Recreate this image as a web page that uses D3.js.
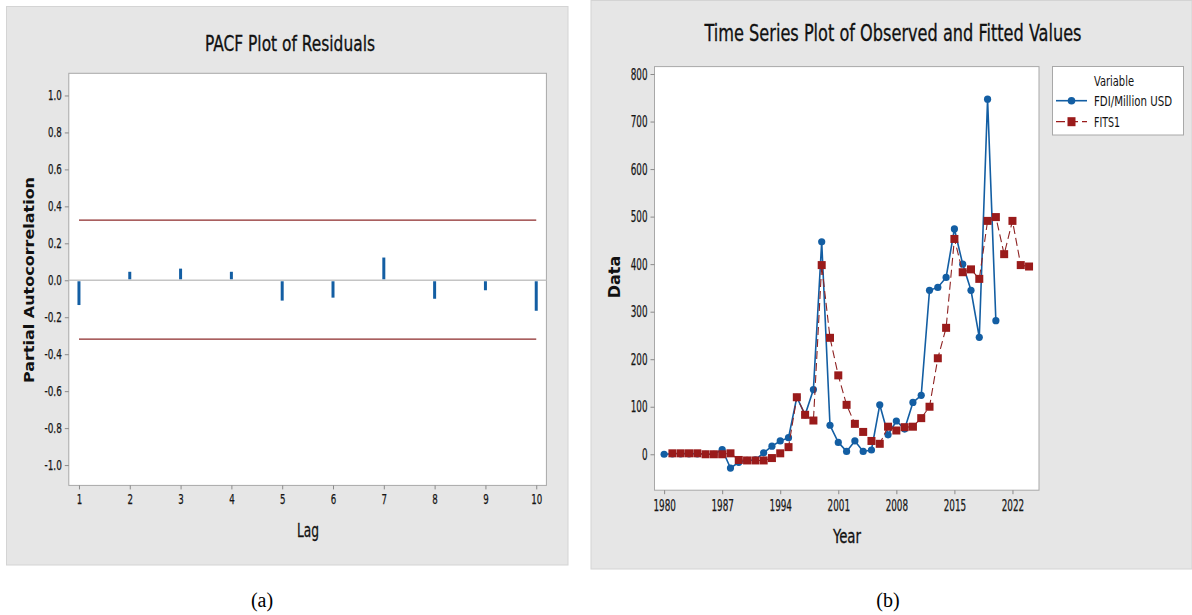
<!DOCTYPE html>
<html>
<head>
<meta charset="utf-8">
<script src="https://cdn.jsdelivr.net/npm/d3@7"></script>
<style>
  html, body { margin: 0; padding: 0; background: #ffffff; }
  svg { display: block; }
  .tick text { fill: #151515; }
</style>
</head>
<body>
<svg id="chart" width="1192" height="615"></svg>
<script>
// ---------------- DATA ----------------
const lags = [1, 2, 3, 4, 5, 6, 7, 8, 9, 10];
const pacfValues = [-0.134, 0.046, 0.063, 0.046, -0.11, -0.094, 0.123, -0.10, -0.054, -0.165];
const pacfLimits = [0.325, -0.318];
const pacfYTicks = [-1.0, -0.8, -0.6, -0.4, -0.2, 0.0, 0.2, 0.4, 0.6, 0.8, 1.0];

const obsYears = d3.range(1980, 2021);
const obsValues = [0, 1, 1, 1, 1, 0, 0, 10, -29, -17, -13, -12, 3, 17, 28, 35, 120, 83, 136, 447,
                   61, 25, 6, 28, 6, 9, 104, 41, 70, 53, 109, 124, 345, 351, 372, 474, 400, 345, 246, 747, 281];
const fitYears = d3.range(1981, 2025);
const fitValues = [2, 2, 2, 2, 0, 0, 0, 2, -12, -13, -13, -13, -8, 2, 15, 120, 83, 71, 398, 245,
                   166, 104, 64, 47, 28, 22, 58, 50, 57, 58, 76, 100, 202, 266, 453, 383, 389, 369, 491, 499,
                   421, 491, 398, 395];
const yearTicks = [1980, 1987, 1994, 2001, 2008, 2015, 2022];
const dataTicks = [0, 100, 200, 300, 400, 500, 600, 700, 800];
const seriesNames = ["FDI/Million USD", "FITS1"];

// ---------------- STYLE ----------------
const svg = d3.select("#chart");
const narrow = "'Liberation Sans Narrow', 'DejaVu Sans Condensed', 'Roboto Condensed', 'Liberation Sans', sans-serif";
const bold = "'DejaVu Sans', Verdana, sans-serif";
const panelBg = "#e6e6e6";
const blue = "#135ea3";
const red = "#9a1b1b";

// width of a condensed label (digits narrow)
function labelLen(s, digitW) {
  let w = 0;
  for (const c of s) w += (c === "." ? digitW * 0.5 : c === "-" ? digitW * 0.65 : digitW);
  return w;
}

// ================= PANEL A =================
svg.append("rect").attr("x", 6.5).attr("y", 6.5).attr("width", 561.5).attr("height", 558.5)
  .attr("fill", panelBg).attr("stroke", "#d4d4d4");

const L = {x0: 68.8, x1: 546.4, y0: 73.3, y1: 485.4};
const xL = d3.scaleLinear().domain([0.8, 10.2]).range([L.x0, L.x1]);
const yL = d3.scaleLinear().domain([-1.11, 1.12]).range([L.y1, L.y0]);

svg.append("rect").attr("x", L.x0).attr("y", L.y0).attr("width", L.x1 - L.x0).attr("height", L.y1 - L.y0)
  .attr("fill", "#ffffff").attr("stroke", "#a8a8a8").attr("stroke-width", 1);

const gyL = svg.append("g").attr("transform", `translate(${L.x0},0)`)
  .call(d3.axisLeft(yL).tickValues(pacfYTicks).tickFormat(d => d.toFixed(1)).tickSize(4).tickPadding(3));
const gxL = svg.append("g").attr("transform", `translate(0,${L.y1})`)
  .call(d3.axisBottom(xL).tickValues(lags).tickFormat(d => String(d)).tickSize(4).tickPadding(5));
[gyL, gxL].forEach(g => {
  g.select(".domain").remove();
  g.selectAll(".tick line").attr("stroke", "#8a8a8a");
  g.selectAll(".tick text").attr("font-family", narrow).attr("font-size", 14)
    .attr("stroke", "#151515").attr("stroke-width", 0.25)
    .attr("textLength", function () { return labelLen(this.textContent, 5.5); })
    .attr("lengthAdjust", "spacingAndGlyphs");
});

// zero line
svg.append("line").attr("x1", L.x0).attr("x2", L.x1).attr("y1", yL(0)).attr("y2", yL(0))
  .attr("stroke", "#c4c4c4").attr("stroke-width", 1.6);

// significance limits
svg.selectAll(".lim").data(pacfLimits).join("line")
  .attr("x1", xL(lags[0])).attr("x2", xL(lags[lags.length - 1]))
  .attr("y1", d => yL(d)).attr("y2", d => yL(d))
  .attr("stroke", "#8c2a2a").attr("stroke-width", 1.2);

// PACF spikes
svg.selectAll(".spike").data(lags).join("line")
  .attr("x1", d => xL(d)).attr("x2", d => xL(d))
  .attr("y1", (d, i) => yL(0) + (pacfValues[i] < 0 ? 1 : -1))
  .attr("y2", (d, i) => yL(pacfValues[i]))
  .attr("stroke", blue).attr("stroke-width", 3);

// titles
svg.append("text").attr("x", 290).attr("y", 51).attr("text-anchor", "middle")
  .attr("font-family", narrow).attr("font-size", 22).attr("fill", "#111")
  .attr("stroke", "#111").attr("stroke-width", 0.3)
  .attr("textLength", 170).attr("lengthAdjust", "spacingAndGlyphs")
  .text("PACF Plot of Residuals");
svg.append("text").attr("x", 308).attr("y", 537).attr("text-anchor", "middle")
  .attr("font-family", narrow).attr("font-size", 20).attr("fill", "#111")
  .attr("stroke", "#111").attr("stroke-width", 0.3)
  .attr("textLength", 22).attr("lengthAdjust", "spacingAndGlyphs")
  .text("Lag");
svg.append("text").attr("transform", "translate(34,280) rotate(-90)").attr("text-anchor", "middle")
  .attr("font-family", bold).attr("font-weight", "bold").attr("font-size", 14).attr("fill", "#111")
  .attr("textLength", 206).attr("lengthAdjust", "spacingAndGlyphs")
  .text("Partial Autocorrelation");

// ================= PANEL B =================
svg.append("rect").attr("x", 591).attr("y", 0.5).attr("width", 601).attr("height", 568.5)
  .attr("fill", panelBg).attr("stroke", "#d4d4d4");

const R = {x0: 654.5, x1: 1039, y0: 66.6, y1: 490.2};
const xR = d3.scaleLinear().domain([1978.84, 2025.2]).range([R.x0, R.x1]);
const yR = d3.scaleLinear().domain([-75.6, 815.6]).range([R.y1, R.y0]);

svg.append("rect").attr("x", R.x0).attr("y", R.y0).attr("width", R.x1 - R.x0).attr("height", R.y1 - R.y0)
  .attr("fill", "#ffffff").attr("stroke", "#a8a8a8").attr("stroke-width", 1);

const gyR = svg.append("g").attr("transform", `translate(${R.x0},0)`)
  .call(d3.axisLeft(yR).tickValues(dataTicks).tickFormat(d => String(d)).tickSize(4).tickPadding(3));
const gxR = svg.append("g").attr("transform", `translate(0,${R.y1})`)
  .call(d3.axisBottom(xR).tickValues(yearTicks).tickFormat(d => String(d)).tickSize(4).tickPadding(5));
[gyR, gxR].forEach(g => {
  g.select(".domain").remove();
  g.selectAll(".tick line").attr("stroke", "#8a8a8a");
  g.selectAll(".tick text").attr("font-family", narrow).attr("font-size", 16)
    .attr("stroke", "#151515").attr("stroke-width", 0.25)
    .attr("textLength", function () { return labelLen(this.textContent, 5.6); })
    .attr("lengthAdjust", "spacingAndGlyphs");
});

const obs = obsYears.map((y, i) => ({year: y, value: obsValues[i]}));
const fit = fitYears.map((y, i) => ({year: y, value: fitValues[i]}));
const line = d3.line().x(d => xR(d.year)).y(d => yR(d.value));

svg.append("path").datum(obs).attr("d", line).attr("fill", "none")
  .attr("stroke", blue).attr("stroke-width", 1.6);
svg.selectAll(".obsPt").data(obs).join("circle")
  .attr("cx", d => xR(d.year)).attr("cy", d => yR(d.value)).attr("r", 3.6).attr("fill", blue);

svg.append("path").datum(fit).attr("d", line).attr("fill", "none")
  .attr("stroke", "#8e2222").attr("stroke-width", 1.1).attr("stroke-dasharray", "8,4");
const sq = 8;
svg.selectAll(".fitPt").data(fit).join("rect")
  .attr("x", d => xR(d.year) - sq / 2).attr("y", d => yR(d.value) - sq / 2)
  .attr("width", sq).attr("height", sq).attr("fill", red);

// titles
svg.append("text").attr("x", 893).attr("y", 41).attr("text-anchor", "middle")
  .attr("font-family", narrow).attr("font-size", 22.5).attr("fill", "#111")
  .attr("stroke", "#111").attr("stroke-width", 0.3)
  .attr("textLength", 377).attr("lengthAdjust", "spacingAndGlyphs")
  .text("Time Series Plot of Observed and Fitted Values");
svg.append("text").attr("x", 847).attr("y", 543).attr("text-anchor", "middle")
  .attr("font-family", narrow).attr("font-size", 19.5).attr("fill", "#111")
  .attr("stroke", "#111").attr("stroke-width", 0.3)
  .attr("textLength", 28).attr("lengthAdjust", "spacingAndGlyphs")
  .text("Year");
svg.append("text").attr("transform", "translate(620,277) rotate(-90)").attr("text-anchor", "middle")
  .attr("font-family", bold).attr("font-weight", "bold").attr("font-size", 16).attr("fill", "#111")
  .text("Data");

// legend
const lg = svg.append("g");
lg.append("rect").attr("x", 1052.5).attr("y", 66.5).attr("width", 131).attr("height", 68.5)
  .attr("fill", "#ffffff").attr("stroke", "#a8a8a8");
lg.append("text").attr("x", 1114).attr("y", 85.5).attr("text-anchor", "middle")
  .attr("font-family", narrow).attr("font-size", 14).attr("fill", "#111")
  .attr("textLength", 40).attr("lengthAdjust", "spacingAndGlyphs").text("Variable");
const legRows = [{name: seriesNames[0], y: 100.7, color: blue, dash: null, shape: "circle", len: 78},
                 {name: seriesNames[1], y: 121.7, color: red, dash: "8,4", shape: "square", len: 26}];
legRows.forEach(r => {
  lg.append("line").attr("x1", 1056).attr("x2", 1087).attr("y1", r.y).attr("y2", r.y)
    .attr("stroke", r.color).attr("stroke-width", r.shape === "circle" ? 1.6 : 1.3)
    .attr("stroke-dasharray", r.dash ? "9,4" : null);
  if (r.shape === "circle") {
    lg.append("circle").attr("cx", 1071.5).attr("cy", r.y).attr("r", 3.8).attr("fill", r.color);
  } else {
    lg.append("rect").attr("x", 1071.5 - 4).attr("y", r.y - 4.5).attr("width", 8).attr("height", 9).attr("fill", r.color);
  }
  lg.append("text").attr("x", 1094).attr("y", r.y + 5)
    .attr("font-family", narrow).attr("font-size", 14).attr("fill", "#111")
    .attr("textLength", r.len).attr("lengthAdjust", "spacingAndGlyphs").text(r.name);
});

// captions
svg.append("text").attr("x", 262).attr("y", 607).attr("text-anchor", "middle")
  .attr("font-family", "'Liberation Serif', 'Times New Roman', serif").attr("font-size", 20).attr("fill", "#000").text("(a)");
svg.append("text").attr("x", 888).attr("y", 607).attr("text-anchor", "middle")
  .attr("font-family", "'Liberation Serif', 'Times New Roman', serif").attr("font-size", 20).attr("fill", "#000").text("(b)");
</script>
</body>
</html>
